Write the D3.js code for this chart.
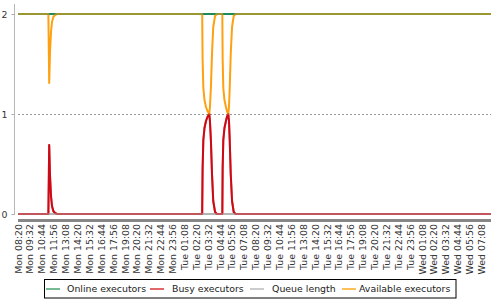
<!DOCTYPE html>
<html>
<head>
<meta charset="utf-8">
<script src="https://cdn.jsdelivr.net/npm/d3@7"></script>
<style>
  html, body { margin: 0; padding: 0; background: #fff; }
  svg { display: block; font-family: "DejaVu Sans", sans-serif; }
</style>
</head>
<body>
<svg id="chart" width="500" height="300"></svg>
<script>
// ---- data (minutes since Mon 08:20, value) ----
const xLabels = [
  "Mon 08:20","Mon 09:32","Mon 10:44","Mon 11:56","Mon 13:08","Mon 14:20","Mon 15:32","Mon 16:44",
  "Mon 17:56","Mon 19:08","Mon 20:20","Mon 21:32","Mon 22:44","Mon 23:56","Tue 01:08","Tue 02:20",
  "Tue 03:32","Tue 04:44","Tue 05:56","Tue 07:08","Tue 08:20","Tue 09:32","Tue 10:44","Tue 11:56",
  "Tue 13:08","Tue 14:20","Tue 15:32","Tue 16:44","Tue 17:56","Tue 19:08","Tue 20:20","Tue 21:32",
  "Tue 22:44","Tue 23:56","Wed 01:08","Wed 02:20","Wed 03:32","Wed 04:44","Wed 05:56","Wed 07:08"
];
const labelStepMinutes = 72;
const totalMinutes = 2866;
const yTicks = [0, 1, 2];

const onlineExecutors = [[0, 2], [2866, 2]];
const queueLength = [[0, 0], [2866, 0]];
const busyExecutors = [
  [0, 0], [184, 0], [187, 0.4], [189, 0.69], [194, 0.38], [200, 0.18], [206, 0.08], [214, 0.03], [224, 0.01], [236, 0],
  [1116, 0], [1118.5, 0.45], [1123, 0.74], [1130, 0.86], [1139, 0.93], [1148, 0.97], [1159, 1.0],
  [1163, 0.93], [1169, 0.73], [1175.5, 0.4], [1183, 0.13], [1194, 0.02], [1204, 0],
  [1238, 0], [1240, 0.45], [1244, 0.74], [1251, 0.86], [1260, 0.93], [1266, 0.97], [1274, 1.0],
  [1278.5, 0.93], [1283, 0.73], [1289, 0.4], [1297, 0.13], [1307, 0.02], [1318, 0],
  [2866, 0]
];
const availableExecutors = [
  [0, 2], [184, 2], [187, 1.6], [189, 1.31], [194, 1.62], [200, 1.82], [206, 1.92], [214, 1.97], [224, 1.99], [236, 2],
  [1116, 2], [1118.5, 1.55], [1123, 1.26], [1130, 1.14], [1139, 1.07], [1148, 1.03], [1159, 1.0],
  [1163, 1.07], [1169, 1.27], [1175.5, 1.6], [1183, 1.87], [1194, 1.98], [1204, 2],
  [1238, 2], [1240, 1.55], [1244, 1.26], [1251, 1.14], [1260, 1.07], [1266, 1.03], [1274, 1.0],
  [1278.5, 1.07], [1283, 1.27], [1289, 1.6], [1297, 1.87], [1307, 1.98], [1318, 2],
  [2866, 2]
];
const seriesNames = ["Online executors", "Busy executors", "Queue length", "Available executors"];

// ---- drawing ----
const svg = d3.select("#chart");
const plotLeft = 18, plotRight = 491, plotTop = 4, plotBottom = 214;

const x = d3.scaleLinear().domain([0, totalMinutes]).range([plotLeft, plotRight]);
const y = d3.scaleLinear().domain([0, 2]).range([214, 14]);

const lineColors = {
  online: "#1e8a5a",
  busy: "#cc0a14",
  queue: "#b4b4b4",
  available: "#ffa010"
};
const legendColors = ["#74ba92", "#e06868", "#cccccc", "#ffbf5a"];

// y axis
const yAxis = d3.axisLeft(y).tickValues(yTicks).tickFormat(d3.format("d")).tickSize(3).tickPadding(4);
const gy = svg.append("g").attr("transform", `translate(14.5,0)`).call(yAxis);
gy.select(".domain").remove();
gy.selectAll(".tick line").attr("stroke", "#aaa");
gy.selectAll(".tick text").attr("font-size", "9.4px").attr("fill", "#333").attr("font-family", "DejaVu Sans");
svg.append("line").attr("x1", 14.5).attr("x2", 14.5).attr("y1", plotTop).attr("y2", 215)
  .attr("stroke", "#b8b8b8").attr("stroke-width", 1);

// gridlines
svg.append("g").selectAll("line").data(yTicks).join("line")
  .attr("x1", plotLeft).attr("x2", plotRight)
  .attr("y1", d => y(d) + 0.5).attr("y2", d => y(d) + 0.5)
  .attr("stroke", "#999").attr("stroke-width", 1).attr("stroke-dasharray", "2,2");

// series lines
const line = d3.line().x(d => x(d[0])).y(d => y(d[1]));
function drawSeries(data, color, opacity) {
  svg.append("path").datum(data).attr("d", line)
    .attr("fill", "none").attr("stroke", color).attr("stroke-width", 2)
    .attr("stroke-opacity", opacity).attr("stroke-linejoin", "round");
}
drawSeries(onlineExecutors, lineColors.online, 1);
drawSeries(busyExecutors, lineColors.busy, 1);
drawSeries(queueLength, lineColors.queue, 1);
drawSeries(availableExecutors, lineColors.available, 1);
// interleaved rendering blend where series overlap
drawSeries(onlineExecutors, lineColors.online, 0.45);
drawSeries(busyExecutors, lineColors.busy, 0.55);

// x axis (category style)
svg.append("rect").attr("x", plotLeft).attr("y", 219).attr("width", plotRight - plotLeft).attr("height", 3)
  .attr("fill", "#878787");

const labelG = svg.append("g");
labelG.selectAll("text").data(xLabels).join("text")
  .attr("transform", (d, i) => `translate(${x(i * labelStepMinutes) + 0.3},224) rotate(-90)`)
  .attr("text-anchor", "end")
  .attr("dy", "0.35em")
  .attr("font-size", "9.4px")
  .attr("fill", "#333")
  .text(d => d);

// legend
const legend = svg.append("g");
legend.append("rect").attr("x", 44.5).attr("y", 279.5).attr("width", 411.5).attr("height", 18.5)
  .attr("fill", "#fff").attr("stroke", "#000").attr("stroke-width", 1);
const legendLineX = [46, 150, 250, 342];
const legendTextX = [67, 172, 272, 359];
seriesNames.forEach((name, i) => {
  legend.append("line").attr("x1", legendLineX[i]).attr("x2", legendLineX[i] + 14)
    .attr("y1", 289).attr("y2", 289).attr("stroke", legendColors[i]).attr("stroke-width", 2);
  legend.append("text").attr("x", legendTextX[i]).attr("y", 289).attr("dy", "0.35em")
    .attr("font-size", "9.4px").attr("fill", "#222").text(name);
});
</script>
</body>
</html>
